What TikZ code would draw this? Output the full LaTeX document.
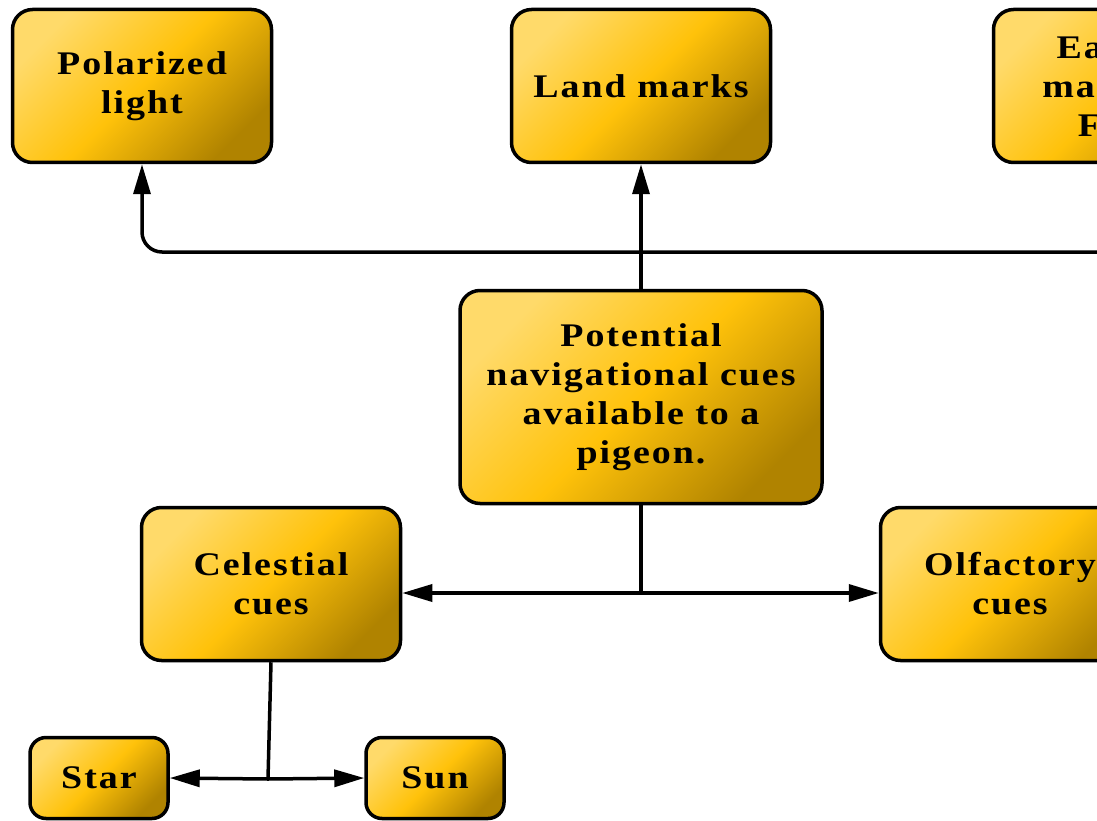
\documentclass[tikz,border=0pt]{standalone}
\usepackage{fontspec}
\setmainfont{Liberation Serif}[FakeStretch=1.15, LetterSpace=6]
\usepackage{tikz}
\usetikzlibrary{arrows.meta,
                calc,
                positioning,
                shapes}

\definecolor{cueLight}{HTML}{FFDA6A}
\definecolor{cueMid}{HTML}{FFC20A}
\definecolor{cueDark}{HTML}{B08300}

\begin{document}
\begin{tikzpicture}[
				x=1pt, y=-1pt,
				line width=3.5pt,
				cue node/.style={rectangle, rounded corners=20pt, draw, line width=3.5pt,
					top color=cueLight, bottom color=cueDark, middle color=cueMid, shading angle=45,
					align=center, font=\fontsize{33}{39}\selectfont\bfseries,
					minimum width=259pt, minimum height=153pt},
				small node/.style={cue node, rounded corners=16pt, minimum width=138pt, minimum height=81pt},
				cue arrow/.style={-{Triangle[length=30pt,width=17pt]}}
				]
				\clip (0,0) rectangle (1097,821);
		  		\node[cue node] (pol) at (142,86) {Polarized\\light};
		  		\node[cue node] (land) at (641,86) {Land marks};
		  		\node[cue node] (earth) at (1123,86) {Earth's\\magnetic\\Field};
		  		\node[cue node, minimum width=362pt, minimum height=213pt] (pot) at (641,397) {Potential\\navigational cues\\available to a\\pigeon.};
		  		\node[cue node] (cel) at (271,584) {Celestial\\cues};
		  		\node[cue node] (olf) at (1010,584) {Olfactory\\cues};
		  		\node[small node] (star) at (99,778) {Star};
		  		\node[small node] (sun) at (435,778) {Sun};
				% junctions
				\coordinate (top bus) at (641,252);
				\coordinate (mid bus) at (641,593);
				\coordinate (low bus) at (268,779);
				% upper cues
				\draw[cue arrow] (pot.north) -- (land.south);
				\draw[{Triangle[length=30pt,width=17pt]}-{Triangle[length=30pt,width=17pt]}, rounded corners=20pt]
					(pol.south) |- (top bus) -| (earth.south);
				% side cues
				\draw (pot.south) -- (mid bus);
				\draw[cue arrow] (mid bus) -- (cel.east |- mid bus);
				\draw[cue arrow] (mid bus) -- (olf.west |- mid bus);
				% celestial
				\draw (cel.south) -- (low bus);
				\draw[cue arrow] (low bus) -- (star.east);
				\draw[cue arrow] (low bus) -- (sun.west);
\end{tikzpicture}
\end{document}
